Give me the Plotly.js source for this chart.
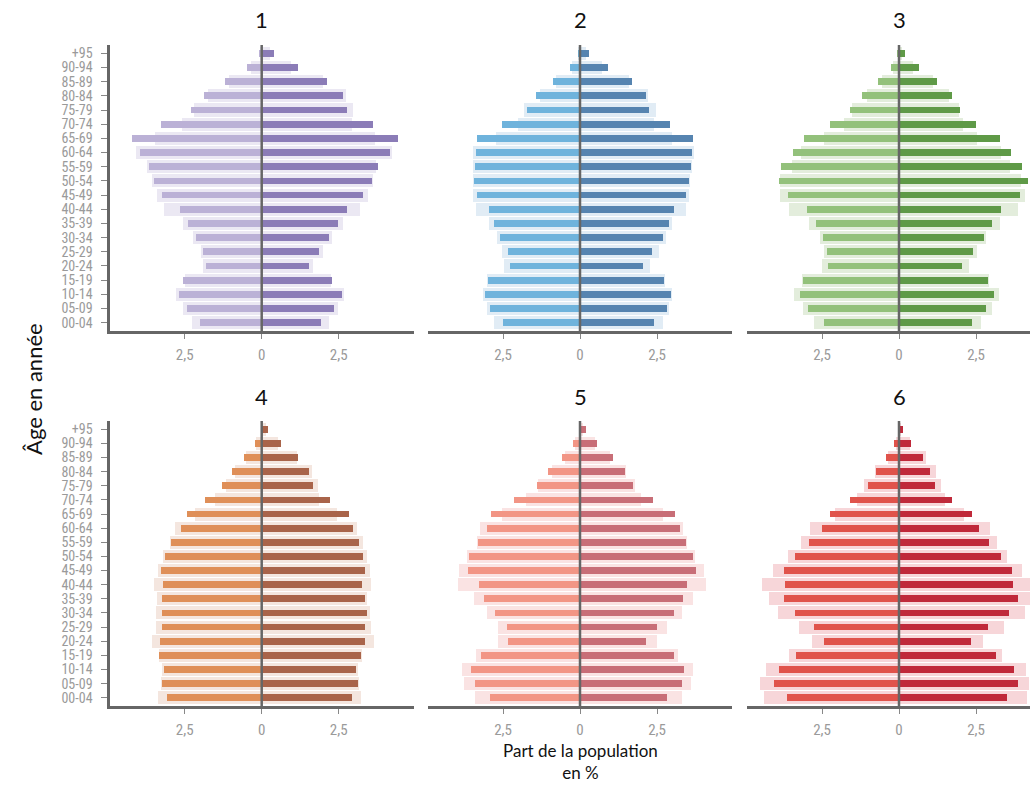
<!DOCTYPE html>
<html>
<head>
<meta charset="utf-8">
<script src="https://cdn.plot.ly/plotly-3.0.1.min.js"></script>
<style>
html, body { margin: 0; padding: 0; overflow: hidden; background: #fff; }
#chart { width: 1060px; height: 785px; }
</style>
</head>
<body>
<div id="chart"></div>
<script>
// Age groups, listed top to bottom
const ages = ['+95','90-94','85-89','80-84','75-79','70-74','65-69','60-64','55-59','50-54',
              '45-49','40-44','35-39','30-34','25-29','20-24','15-19','10-14','05-09','00-04'];
const panelTitles = ['1','2','3','4','5','6'];
const xTickVals = [-2.5, 0, 2.5];
const xTickText = ['2,5', '0', '2,5'];

// Panel values (% of population): narrow bars left/right, wide reference bars left/right
const p1Left     = [0.10,0.47,1.19,1.87,2.30,3.28,4.22,3.95,3.66,3.51,3.23,2.65,2.40,2.14,1.89,1.81,2.54,2.67,2.44,1.99];
const p1LeftRef  = [0.05,0.35,1.07,1.75,2.20,2.60,3.46,4.08,3.73,3.57,3.41,3.16,2.56,2.24,1.98,1.92,2.50,2.79,2.56,2.25];
const p1Right    = [0.40,1.17,2.13,2.65,2.76,3.62,4.43,4.17,3.79,3.59,3.29,2.76,2.49,2.20,1.87,1.55,2.29,2.60,2.36,1.93];
const p1RightRef = [0.27,0.95,2.00,2.74,2.97,2.93,3.68,4.22,3.72,3.62,3.46,3.19,2.65,2.29,1.98,1.68,2.25,2.68,2.49,2.18];

const p2Left     = [0.08,0.32,0.89,1.43,1.73,2.53,3.33,3.38,3.41,3.45,3.35,2.95,2.79,2.60,2.35,2.27,2.99,3.07,2.92,2.49];
const p2LeftRef  = [0.05,0.25,0.79,1.30,1.82,2.00,2.74,3.48,3.46,3.48,3.48,3.38,2.94,2.70,2.52,2.47,3.03,3.14,3.03,2.79];
const p2Right    = [0.30,0.90,1.70,2.14,2.24,2.92,3.68,3.65,3.60,3.55,3.44,3.05,2.90,2.68,2.35,2.05,2.73,2.94,2.81,2.41];
const p2RightRef = [0.20,0.73,1.60,2.22,2.46,2.40,3.00,3.71,3.62,3.58,3.55,3.44,3.00,2.78,2.55,2.26,2.75,3.00,2.90,2.70];

const p3Left     = [0.07,0.25,0.68,1.19,1.58,2.24,3.08,3.45,3.83,3.89,3.61,2.99,2.69,2.48,2.34,2.29,3.11,3.20,2.94,2.45];
const p3LeftRef  = [0.04,0.18,0.55,1.04,1.53,1.80,2.42,3.18,3.47,3.85,3.85,3.58,2.92,2.55,2.42,2.50,3.15,3.40,3.13,2.77];
const p3Right    = [0.20,0.64,1.23,1.73,1.97,2.49,3.29,3.64,4.00,4.19,3.92,3.31,3.02,2.77,2.39,2.05,2.88,3.10,2.84,2.38];
const p3RightRef = [0.10,0.47,1.10,1.61,1.94,2.08,2.53,3.31,3.59,3.96,4.10,3.86,3.27,2.84,2.53,2.26,2.91,3.24,3.02,2.67];

const p4Left     = [0.02,0.23,0.58,0.97,1.28,1.84,2.44,2.63,2.94,3.14,3.28,3.19,3.24,3.25,3.25,3.30,3.32,3.17,3.25,3.07];
const p4LeftRef  = [0.02,0.17,0.50,0.88,1.15,1.53,2.15,2.80,2.99,3.20,3.37,3.50,3.40,3.42,3.44,3.56,3.34,3.24,3.26,3.37];
const p4Right    = [0.22,0.62,1.18,1.53,1.65,2.21,2.84,2.97,3.17,3.30,3.36,3.26,3.35,3.41,3.35,3.35,3.22,3.05,3.14,2.94];
const p4RightRef = [0.15,0.53,1.13,1.63,1.83,1.86,2.45,3.10,3.28,3.43,3.53,3.56,3.41,3.52,3.56,3.65,3.25,3.14,3.16,3.21];

const p5Left     = [0.02,0.22,0.58,1.03,1.41,2.13,2.88,3.03,3.31,3.60,3.63,3.28,3.11,2.76,2.36,2.34,3.23,3.55,3.40,2.92];
const p5LeftRef  = [0.02,0.16,0.49,0.92,1.35,1.75,2.54,3.25,3.35,3.66,3.93,3.95,3.43,3.03,2.67,2.67,3.38,3.82,3.77,3.40];
const p5Right    = [0.19,0.56,1.06,1.45,1.71,2.38,3.08,3.25,3.44,3.68,3.75,3.46,3.36,3.05,2.49,2.14,3.05,3.38,3.30,2.84];
const p5RightRef = [0.10,0.49,0.97,1.49,1.79,1.97,2.68,3.33,3.46,3.73,4.03,4.10,3.66,3.32,2.84,2.51,3.17,3.66,3.59,3.30];

const p6Left     = [0.02,0.16,0.43,0.76,1.02,1.58,2.24,2.49,2.93,3.37,3.72,3.71,3.72,3.37,2.75,2.44,3.35,3.91,4.06,3.65];
const p6LeftRef  = [0.01,0.10,0.35,0.78,1.14,1.37,2.08,2.90,3.17,3.59,4.08,4.46,4.23,3.93,3.25,2.82,3.56,4.32,4.51,4.38];
const p6Right    = [0.12,0.40,0.77,1.02,1.18,1.71,2.36,2.60,2.91,3.31,3.67,3.69,3.87,3.58,2.90,2.33,3.14,3.74,3.87,3.50];
const p6RightRef = [0.08,0.36,0.87,1.19,1.37,1.49,2.12,2.95,3.18,3.51,4.00,4.40,4.30,4.09,3.42,2.74,3.33,4.11,4.23,4.15];

const panels = [
  {L:p1Left, LR:p1LeftRef, R:p1Right, RR:p1RightRef},
  {L:p2Left, LR:p2LeftRef, R:p2Right, RR:p2RightRef},
  {L:p3Left, LR:p3LeftRef, R:p3Right, RR:p3RightRef},
  {L:p4Left, LR:p4LeftRef, R:p4Right, RR:p4RightRef},
  {L:p5Left, LR:p5LeftRef, R:p5Right, RR:p5RightRef},
  {L:p6Left, LR:p6LeftRef, R:p6Right, RR:p6RightRef}
];

// Styles
const colors = [
  {left:'#bbb1d6', right:'#8b7cb7', ref:'#ebe8f3'},
  {left:'#6fb3dc', right:'#5684b0', ref:'#e1ecf5'},
  {left:'#93c17b', right:'#5f9a47', ref:'#e3eddc'},
  {left:'#df8f58', right:'#a9644a', ref:'#f4e6df'},
  {left:'#f29585', right:'#c86e77', ref:'#fae3e3'},
  {left:'#e0534b', right:'#c0293a', ref:'#f7d6d9'}
];

const W = 1060, H = 785;
const zeroPx = [261.7, 580, 899];
const halfW = 151.85;
const XR = 4.93;
const rowPx = [[45, 331], [421, 706]];
const tickFont = {family:'"Roboto Condensed", "Liberation Sans Narrow", "DejaVu Sans Condensed", Roboto, sans-serif', size:14, color:'#9a9a9a'};
const xTickFont = {family: tickFont.family, size: 15, color: '#9a9a9a'};
const titleFontFam = 'Lato, "Open Sans", sans-serif';

const data = [];
const layout = {
  width: W, height: H,
  margin: {l:0, r:0, t:0, b:0},
  paper_bgcolor: '#fff', plot_bgcolor: 'rgba(0,0,0,0)',
  barmode: 'overlay', bargap: 0,
  showlegend: false,
  annotations: [],
  shapes: []
};

for (let i = 0; i < 6; i++) {
  const col = i % 3, row = Math.floor(i / 3);
  const sfx = (i === 0 ? '' : String(i + 1));
  const xa = 'x' + sfx, ya = 'y' + sfx;
  const p = panels[i], c = colors[i];
  const neg = a => a.map(v => -v);
  const common = {type:'bar', orientation:'h', y:ages, xaxis:xa, yaxis:ya, hoverinfo:'skip'};
  data.push(Object.assign({}, common, {x:neg(p.LR), width:0.92, marker:{color:c.ref}}));
  data.push(Object.assign({}, common, {x:p.RR, width:0.92, marker:{color:c.ref}}));
  data.push(Object.assign({}, common, {x:neg(p.L), width:0.48, marker:{color:c.left}}));
  data.push(Object.assign({}, common, {x:p.R, width:0.48, marker:{color:c.right}}));

  const x0 = (zeroPx[col] - halfW) / W, x1 = (zeroPx[col] + halfW) / W;
  const y0 = 1 - rowPx[row][1] / H, y1 = 1 - rowPx[row][0] / H;
  layout['xaxis' + sfx] = {
    domain: [x0, x1], anchor: ya, range: [-XR, XR], fixedrange: true,
    showgrid: false, zeroline: false,
    showline: true, linecolor: '#666', linewidth: 2.5,
    ticks: 'outside', ticklen: 5, tickwidth: 1, tickcolor: '#888',
    tickmode: 'array', tickvals: xTickVals, ticktext: xTickText, tickfont: xTickFont,
    ticklabelstandoff: 3, layer: 'above traces'
  };
  const yax = {
    domain: [y0, y1], anchor: xa, type: 'category',
    range: [19.585, -0.585], fixedrange: true, showgrid: false, zeroline: false,
    layer: 'above traces'
  };
  if (col === 0) {
    Object.assign(yax, {showline: true, linecolor: '#666', linewidth: 2.5,
      ticks: 'outside', ticklen: 6, tickwidth: 1, tickcolor: '#888',
      tickmode: 'array', tickvals: ages, ticktext: ages,
      showticklabels: true, tickfont: tickFont, ticklabelstandoff: 6});
  } else {
    Object.assign(yax, {showline: false, ticks: '', showticklabels: false});
  }
  layout['yaxis' + sfx] = yax;

  // vertical zero line drawn on top of the bars
  layout.shapes.push({
    type: 'line', layer: 'above', xref: xa, yref: ya + ' domain',
    x0: 0, x1: 0, y0: 0, y1: 1,
    line: {color: '#666', width: 2.5}
  });

  layout.annotations.push({
    text: panelTitles[i], xref: xa, x: 0, yref: 'paper',
    y: row === 0 ? 1 - 20 / H : 1 - 396 / H,
    xanchor: 'center', yanchor: 'middle', showarrow: false,
    font: {family: titleFontFam, size: 22, color: '#111'}
  });
}

layout.annotations.push({
  text: 'Âge en année', xref: 'paper', yref: 'paper',
  x: 33 / W, y: 1 - 389 / H, textangle: -90,
  xanchor: 'center', yanchor: 'middle', showarrow: false,
  font: {family: titleFontFam, size: 22, color: '#111'}
});
layout.annotations.push({
  text: 'Part de la population<br>en %', xref: 'paper', yref: 'paper',
  x: 580 / W, y: 1 - 761 / H, xanchor: 'center', yanchor: 'middle', showarrow: false,
  borderpad: 0,
  font: {family: titleFontFam, size: 17, color: '#111'}
});

Plotly.newPlot('chart', data, layout, {displayModeBar: false, staticPlot: true});
</script>
</body>
</html>
